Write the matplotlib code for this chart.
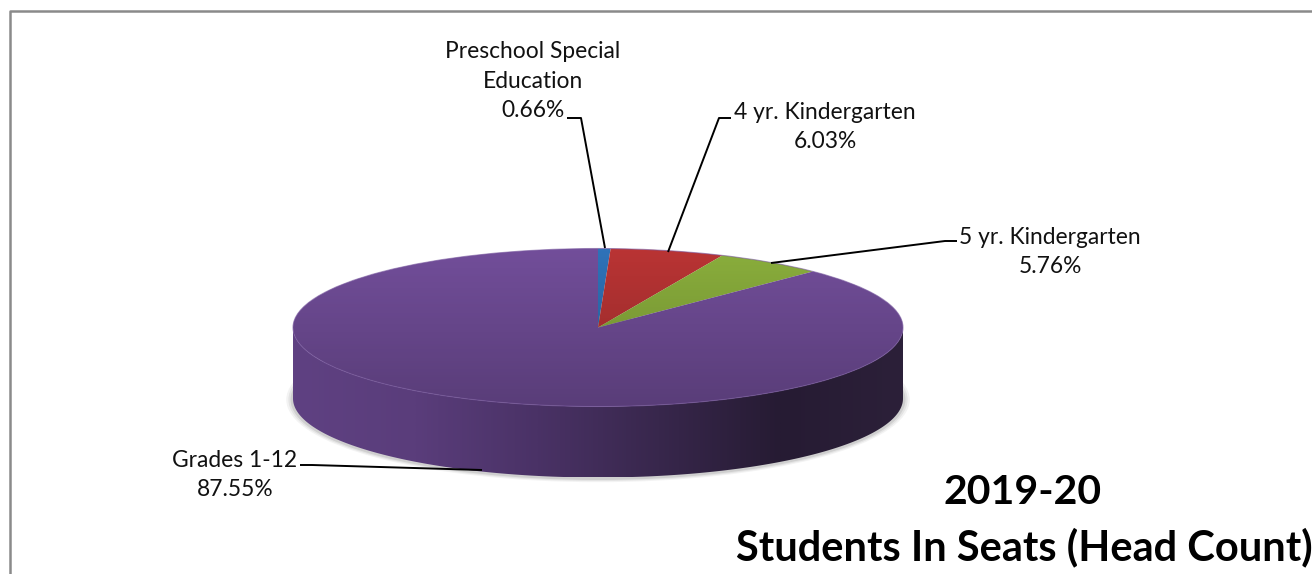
import numpy as np
import matplotlib
matplotlib.use('Agg')
import matplotlib.pyplot as plt
from matplotlib.colors import LinearSegmentedColormap
from matplotlib.patches import Ellipse, Polygon

categories = ['Preschool Special\nEducation', '4 yr. Kindergarten', '5 yr. Kindergarten', 'Grades 1-12']
shares = [0.66, 6.03, 5.76, 87.55]
colors = ['#2f72b8', '#b93434', '#8aae3c', '#724e9a']
title_lines = ['2019-20', 'Students In Seats (Head Count)']

W, H = 1312, 574
CX, CY, RX, RY = 598, 327.5, 305, 79
DEPTH = 71 / RY

plt.rcParams['font.family'] = ['Lato', 'DejaVu Sans']

fig = plt.figure(figsize=(W / 100, H / 100), dpi=100)
ax = fig.add_axes([0, 0, 1, 1])


# pixel position in the picture to the squashed pie coordinates
def px(x, y):
    return (x - CX) / RX, (CY - y) / RY


wedges, _ = ax.pie(shares, colors=colors, startangle=90, counterclock=False, radius=1,
                   wedgeprops={'linewidth': 0, 'zorder': 5})
ax.set_aspect('auto')
ax.set_xlim(px(0, 0)[0], px(W, 0)[0])
ax.set_ylim(px(0, H)[1], px(0, 0)[1])
ax.axis('off')
extent = [ax.get_xlim()[0], ax.get_xlim()[1], ax.get_ylim()[0], ax.get_ylim()[1]]

# soft shadow under the pie
for grow, col in [(0.022, '#f3f3f3'), (0.015, '#e4e4e4'), (0.008, '#cfcfcf')]:
    ax.add_patch(Ellipse((0, -DEPTH - 0.015), 2 * (1 + grow), 2 * (1 + grow * 2), fc=col, ec='none', zorder=2))

# side of the cylinder, dark towards the right
t = np.linspace(np.pi, 2 * np.pi, 200)
side_top = np.c_[np.cos(t), np.sin(t)]
side_bot = np.c_[np.cos(t[::-1]), np.sin(t[::-1]) - DEPTH]
side = Polygon(np.vstack([side_top, side_bot]), fc='none', ec='none', zorder=3)
ax.add_patch(side)
side_cmap = LinearSegmentedColormap.from_list('side', ['#5f4182', '#5a3d7b', '#4a3266', '#38274c', '#261b33', '#2c2039'])
grad = np.linspace(0, 1, 512).reshape(1, -1)
im = ax.imshow(grad, cmap=side_cmap, aspect='auto', zorder=4, extent=[-1, 1, -1 - DEPTH, 0])
im.set_clip_path(side)

# darkening of the top face from back to front
top_clip = Ellipse((0, 0), 2, 2, fc='none', ec='none', zorder=6)
ax.add_patch(top_clip)
shade = np.zeros((256, 1, 4))
shade[:, 0, 3] = np.linspace(0, 0.22, 256)
im2 = ax.imshow(shade, aspect='auto', zorder=7, extent=[-1, 1, -1, 1], origin='upper')
im2.set_clip_path(top_clip)
ax.add_patch(Ellipse((0, 0), 2, 2, fc='none', ec='#7a5aa0', lw=0.8, alpha=0.6, zorder=8))

ax.set_xlim(extent[0], extent[1])
ax.set_ylim(extent[2], extent[3])

# leader lines
leaders = [
    [(605, 248), (581, 118), (567, 118)],
    [(668, 252), (719, 118), (731, 118)],
    [(771, 263), (945, 241), (957, 241)],
    [(482, 470), (312, 465), (300, 465)],
]
for pts in leaders:
    xy = np.array([px(*p) for p in pts])
    ax.plot(xy[:, 0], xy[:, 1], color='black', lw=1.4, zorder=9, solid_capstyle='butt')

# data labels
label_pos = [(533, 81), (825, 127), (1050, 252), (235, 475)]
values_txt = [f'{v:.2f}%' for v in shares]
for name, val, (lx, ly) in zip(categories, values_txt, label_pos):
    x, y = px(lx, ly)
    ax.text(x, y, f'{name}\n{val}', ha='center', va='center', fontsize=16.4, color='#111111',
            linespacing=1.5, zorder=10)

# title sits low on the right
x, y = px(1023, 493)
ax.text(x, y, title_lines[0], ha='center', va='center', fontsize=29.5, fontweight='bold', color='black', zorder=10)
x, y = px(1024, 547)
ax.text(x, y, title_lines[1], ha='center', va='center', fontsize=30, fontweight='bold', color='black', zorder=10)

# chart border
bx = np.array([px(10, 574), px(10, 11), px(1312, 11)])
ax.plot(bx[:, 0], bx[:, 1], color='#8a8a8a', lw=1.8, zorder=1)

fig.savefig('out.png', dpi=100)
